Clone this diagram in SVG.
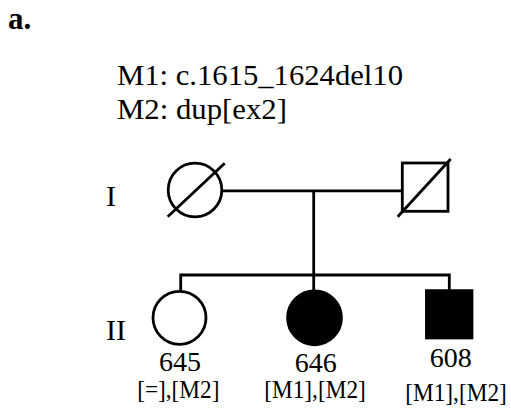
<svg xmlns="http://www.w3.org/2000/svg" width="511" height="410" viewBox="0 0 511 410">
<style>
text{font-family:"Liberation Serif","Times New Roman",serif;fill:#000}
.ln{stroke:#000;stroke-width:2.8;fill:none}
.sym{stroke:#000;stroke-width:2.8;fill:#fff}
.aff{fill:#000;stroke:#000;stroke-width:1.5}
.id{font-size:27.5px;text-anchor:middle}
.gt{font-size:23.3px;text-anchor:middle}
.gen{font-size:30px}
</style>
<rect width="511" height="410" fill="#fff"/>
<text x="8" y="28.5" style="font-size:31px;font-weight:bold">a.</text>
<g id="legend">
<text x="117" y="84.5" style="font-size:30px" textLength="286" lengthAdjust="spacingAndGlyphs">M1: c.1615_1624del10</text>
<text x="117" y="118.5" style="font-size:30px" textLength="170" lengthAdjust="spacingAndGlyphs">M2: dup[ex2]</text>
</g>
<g id="generations">
<text class="gen" x="106" y="205.5">I</text>
<text class="gen" x="106" y="340">II</text>
</g>
<g id="connectors">
<line class="ln" x1="222" y1="190.8" x2="402.3" y2="190.8"/>
<line class="ln" x1="313.7" y1="190.8" x2="313.7" y2="290"/>
<line class="ln" x1="180.7" y1="275" x2="449.3" y2="275"/>
<line class="ln" x1="180.7" y1="273.6" x2="180.7" y2="291"/>
<line class="ln" x1="449.3" y1="273.6" x2="449.3" y2="290"/>
</g>
<g id="I-1">
<circle class="sym" cx="195" cy="190" r="26.8"/>
<line class="ln" x1="167.7" y1="216.7" x2="224.7" y2="163.3"/>
</g>
<g id="I-2">
<rect class="sym" x="402.3" y="163" width="45.7" height="48.3"/>
<line class="ln" x1="397.7" y1="216.7" x2="450.7" y2="159"/>
</g>
<g id="II-1">
<circle class="sym" cx="179.5" cy="317.8" r="26.5"/>
<text class="id" x="180" y="370.5" textLength="42" lengthAdjust="spacingAndGlyphs">645</text>
<text class="gt" transform="translate(178.3,398) scale(1,1.1)">[=],[M2]</text>
</g>
<g id="II-2">
<circle class="aff" cx="314.5" cy="317.8" r="27.6"/>
<text class="id" x="315.8" y="371.5" textLength="42" lengthAdjust="spacingAndGlyphs">646</text>
<text class="gt" transform="translate(315,397.5) scale(1,1.1)">[M1],[M2]</text>
</g>
<g id="II-3">
<rect class="aff" x="425.8" y="290" width="46.8" height="48.6"/>
<text class="id" x="450.8" y="366.5" textLength="42" lengthAdjust="spacingAndGlyphs">608</text>
<text class="gt" transform="translate(456,400.5) scale(1,1.1)">[M1],[M2]</text>
</g>
</svg>
